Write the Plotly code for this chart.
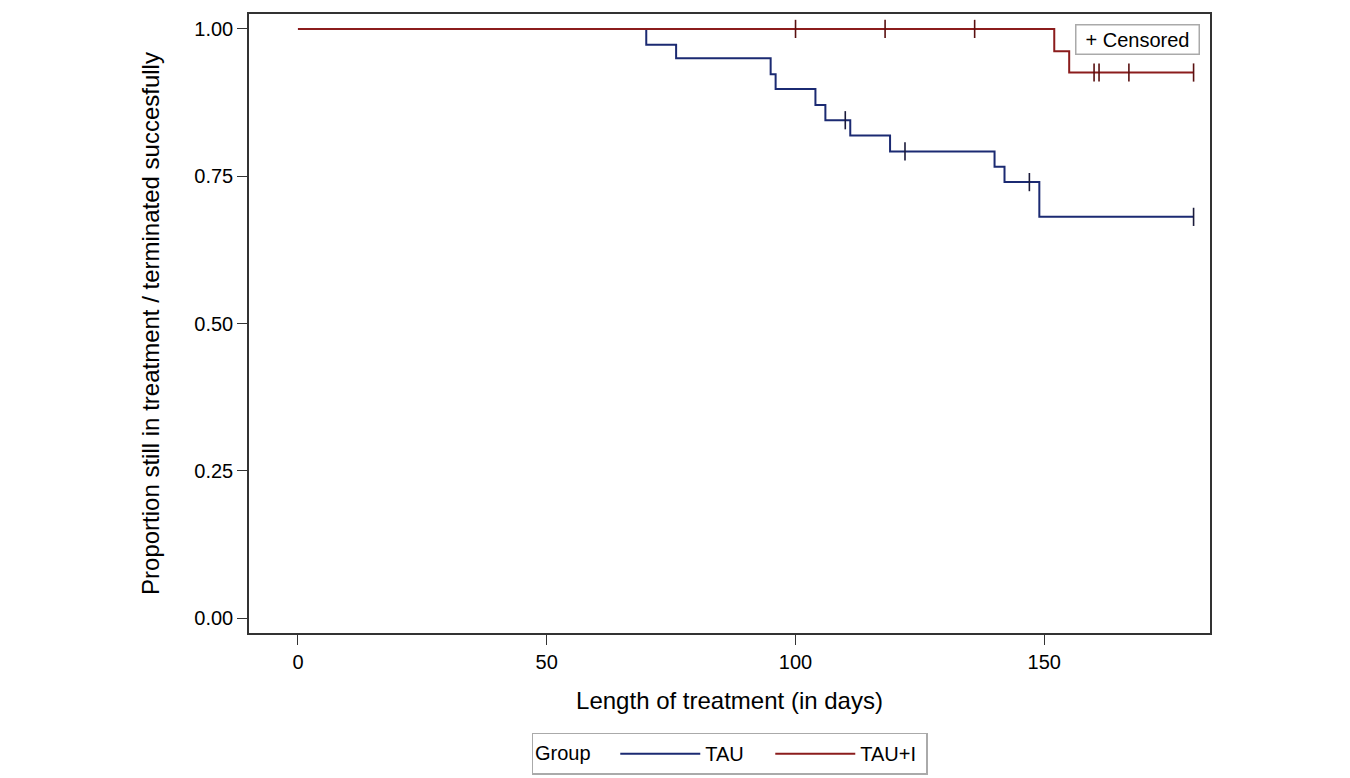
import numpy as np
import plotly.graph_objects as go

# TAU group (Kaplan-Meier steps)
tau_time = [0, 70, 76, 95, 96, 104, 106, 111, 119, 140, 142, 149, 180]
tau_surv = [1.000, 0.973, 0.950, 0.923, 0.898, 0.871, 0.845, 0.819, 0.792, 0.766, 0.740, 0.681, 0.681]
tau_censor = [110, 122, 147, 180]

# TAU+I group
taui_time = [0, 152, 155, 180]
taui_surv = [1.000, 0.962, 0.926, 0.926]
taui_censor = [100, 118, 136, 160, 161, 167, 180]

x_ticks = [0, 50, 100, 150]
y_ticks = [0.0, 0.25, 0.5, 0.75, 1.0]
y_tick_labels = ["0.00", "0.25", "0.50", "0.75", "1.00"]

BLUE = "#1b2a72"
RED = "#8b1c1c"


def step_value(times, surv, t):
    idx = np.searchsorted(np.array(times), t, side="right") - 1
    return [surv[i] for i in idx]


fig = go.Figure()
fig.add_trace(go.Scatter(x=tau_time, y=tau_surv, mode="lines", line_shape="hv",
                         line=dict(color=BLUE, width=2), name="TAU"))
fig.add_trace(go.Scatter(x=taui_time, y=taui_surv, mode="lines", line_shape="hv",
                         line=dict(color=RED, width=2), name="TAU+I"))
fig.add_trace(go.Scatter(x=tau_censor, y=step_value(tau_time, tau_surv, tau_censor),
                         mode="markers", showlegend=False,
                         marker=dict(symbol="line-ns", size=13, line=dict(color="#1a1a3a", width=1.6))))
fig.add_trace(go.Scatter(x=taui_censor, y=step_value(taui_time, taui_surv, taui_censor),
                         mode="markers", showlegend=False,
                         marker=dict(symbol="line-ns", size=13, line=dict(color="#5a1010", width=1.6))))

font = "Liberation Sans, Arial, sans-serif"
fig.update_layout(
    width=1350, height=778,
    margin=dict(l=241, r=148, t=4, b=153),
    paper_bgcolor="white", plot_bgcolor="white",
    font=dict(family=font, size=20, color="black"),
    xaxis=dict(range=[-9.84, 183.3], tickvals=x_ticks, ticks="outside", ticklen=10,
               tickcolor="#333", showgrid=False, zeroline=False, showline=True,
               linecolor="#333", linewidth=1.5, mirror=True,
               title=dict(text="Length of treatment (in days)", standoff=20),
               tickfont=dict(size=20)),
    yaxis=dict(range=[-0.0253, 1.0253], tickvals=y_ticks, ticktext=y_tick_labels,
               ticks="outside", ticklen=10, tickcolor="#333", showgrid=False,
               zeroline=False, showline=True, linecolor="#333", linewidth=1.5,
               mirror=True, tickangle=0,
               title=dict(text="Proportion still in treatment / terminated succesfully", standoff=28),
               tickfont=dict(size=20)),
    legend=dict(orientation="h", x=0.5, xanchor="center", y=-0.161, yanchor="top",
                title=dict(text="Group   ", font=dict(size=20)),
                bordercolor="#aaaaaa", borderwidth=1.5, font=dict(size=20),
                entrywidth=60, itemwidth=80),
    annotations=[dict(xref="paper", yref="paper", x=0.9896, y=0.984, xanchor="right",
                      yanchor="top", text="+ Censored", showarrow=False,
                      width=118, height=24, align="center",
                      bordercolor="#aaaaaa", borderwidth=1.5, borderpad=2,
                      bgcolor="white", font=dict(size=20))],
)

fig.write_html("out.html")
